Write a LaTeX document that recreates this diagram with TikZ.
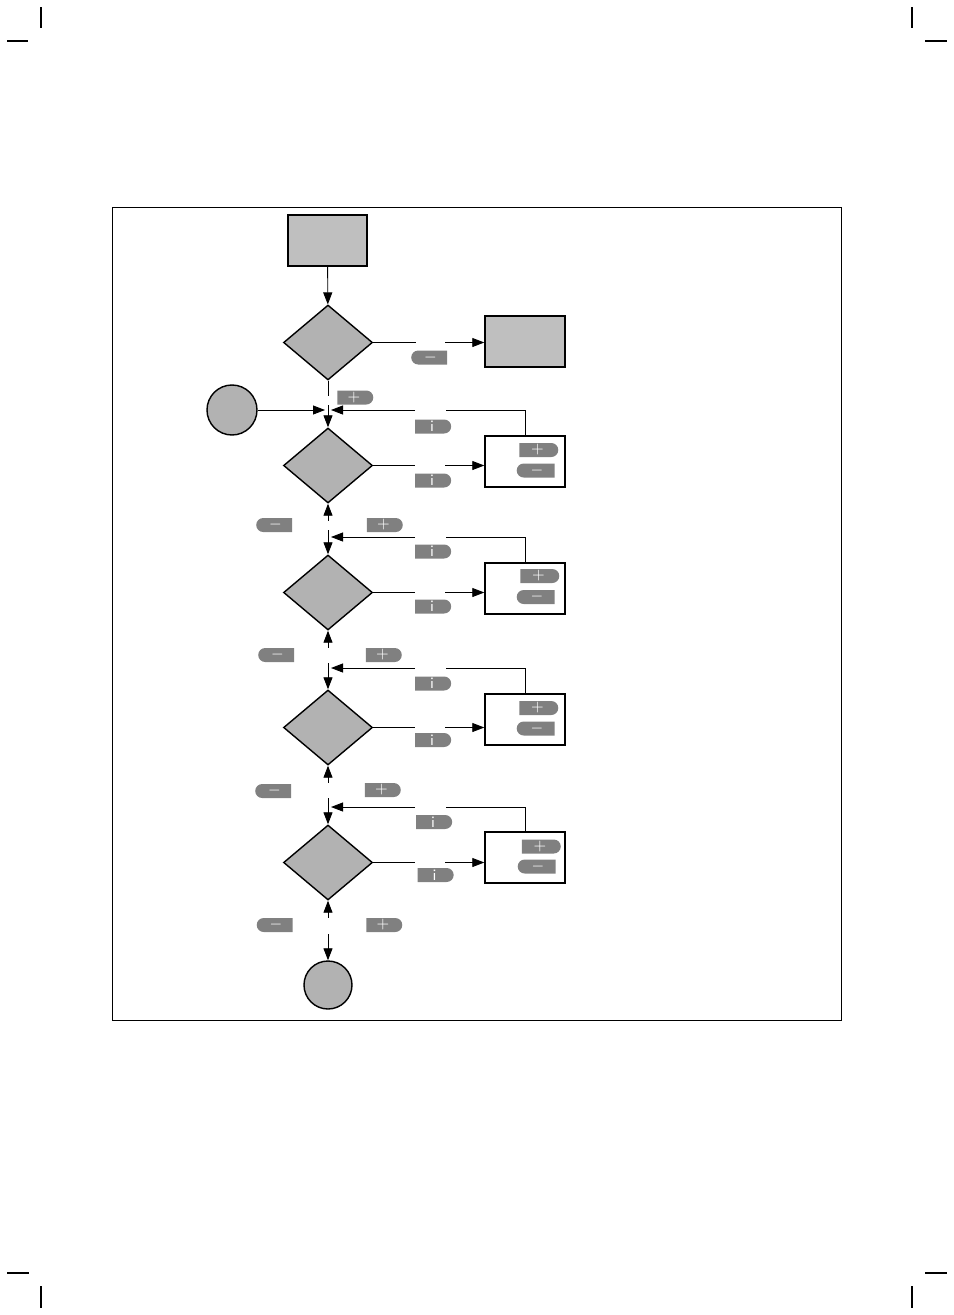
\documentclass[tikz,border=0pt]{standalone}
\usepackage{tikz}
\usetikzlibrary{positioning,arrows.meta,shapes.geometric,shapes.misc,calc}
\definecolor{boxgray}{gray}{0.75}
\definecolor{diagray}{gray}{0.70}
\definecolor{keygray}{gray}{0.50}
\begin{document}
\begin{tikzpicture}[x=0.2mm, y=-0.2mm, line width=0.5pt,
  box/.style={draw, line width=0.8pt, fill=#1, minimum width=16mm, minimum height=10.2mm, inner sep=0pt},
  box/.default=white,
  dia/.style={draw, line width=0.8pt, diamond, fill=diagray, minimum width=17.8mm, minimum height=15mm, inner sep=0pt},
  term/.style={draw, line width=0.8pt, circle, fill=diagray, minimum size=#1, inner sep=0pt},
  keyr/.style={rounded rectangle, rounded rectangle west arc=none, fill=keygray, text=white,
    font=\sffamily\fontsize{9}{9}\selectfont, minimum width=7.2mm, minimum height=2.8mm, inner sep=0pt},
  keyl/.style={rounded rectangle, rounded rectangle east arc=none, fill=keygray, text=white,
    font=\sffamily\fontsize{9}{9}\selectfont, minimum width=7.2mm, minimum height=2.8mm, inner sep=0pt},
  arr/.style={-{Triangle[length=2.4mm, width=1.8mm]}}]
  \useasboundingbox (0,0) rectangle (954,1315);
  % crop marks and frame
  \draw[line width=0.6pt] (41,7)--(41,28) (7,41)--(28,41) (912,7)--(912,28) (925,41)--(947,41)
    (41,1286)--(41,1308) (7,1273)--(29,1273) (912,1286)--(912,1308) (925,1273)--(947,1273);
  \draw[line width=0.5pt] (112,207) rectangle (841,1020);
  % nodes
  \node[box=boxgray, minimum width=15.8mm] (start) at (327.5,240.5) {};
  \node[dia] (d1) at (328,342.5) {};
  \node[box=boxgray] (quit) at (525,341.5) {};
  \node[term=10mm] (c1) at (232,410) {};
  \node[dia] (d2) at (328,465.5) {};
  \node[box] (b2) at (525,461.5) {};
  \node[dia] (d3) at (328,592.5) {};
  \node[box] (b3) at (525,588.5) {};
  \node[dia] (d4) at (328,727.5) {};
  \node[box] (b4) at (525,719.5) {};
  \node[dia] (d5) at (328,862.5) {};
  \node[box] (b5) at (525,857.5) {};
  \node[term=9.6mm] (c2) at (328,985) {};
  \coordinate (j2) at (328,410);
  \coordinate (j3) at (328,537);
  \coordinate (j4) at (328,668);
  \coordinate (j5) at (328,807);
  % keys
  \node[keyl] (k1m) at (430.5,357.5) {$-$};
  \node[keyr] (k1p) at (354,397.5) {$+$};
  \node[keyr] (k2i) at (432,426.5) {i};
  \node[keyr] (k2j) at (432,480.5) {i};
  \node[keyr, minimum width=7.8mm] (b2p) at (537.5,450) {$+$};
  \node[keyl, minimum width=7.6mm] (b2m) at (537,470.5) {$-$};
  \node[keyl] (k3m) at (275.5,525) {$-$};
  \node[keyr] (k3p) at (383.5,525) {$+$};
  \node[keyr] (k3i) at (432,551.5) {i};
  \node[keyr] (k3j) at (432,606.5) {i};
  \node[keyr, minimum width=7.8mm] (b3p) at (538.5,576) {$+$};
  \node[keyl, minimum width=7.6mm] (b3m) at (537,597) {$-$};
  \node[keyl] (k4m) at (277.5,655) {$-$};
  \node[keyr] (k4p) at (382.5,655) {$+$};
  \node[keyr] (k4i) at (432,683.5) {i};
  \node[keyr] (k4j) at (432,740) {i};
  \node[keyr, minimum width=7.8mm] (b4p) at (537.5,708) {$+$};
  \node[keyl, minimum width=7.6mm] (b4m) at (537,728.5) {$-$};
  \node[keyl] (k5m) at (274.5,791) {$-$};
  \node[keyr] (k5p) at (381.5,790) {$+$};
  \node[keyr] (k5i) at (433,822) {i};
  \node[keyr] (k5j) at (434.5,875) {i};
  \node[keyr, minimum width=7.8mm] (b5p) at (540,846.5) {$+$};
  \node[keyl, minimum width=7.6mm] (b5m) at (538,866.5) {$-$};
  \node[keyl] (k6m) at (276,925) {$-$};
  \node[keyr] (k6p) at (383,925) {$+$};
  % connectors
  \draw[arr] (start) -- (d1);
  \draw (d1.east) -- ++(43,0);
  \draw[arr] ($(quit.west |- d1.east)+(-39,0)$) -- (quit.west |- d1.east);
  \draw (d1.south) -- ++(0,15);
  \draw[arr] (c1) -- ($(j2)+(-3,0)$);
  \draw[arr] ($(j2)+(0,-5)$) -- (d2.north);
  \foreach \d/\b/\j in {d2/b2/j2, d3/b3/j3, d4/b4/j4, d5/b5/j5}{
    \draw (\d.east) -- ++(42,0);
    \draw[arr] ($(\b.west |- \d.east)+(-39,0)$) -- (\b.west |- \d.east);
    \draw (\b.north) |- ($(\j)+(118,0)$);
    \draw[arr] ($(\j)+(87,0)$) -- ($(\j)+(3,0)$);
  }
  \draw[arr] ($(d2.south)+(0,17)$) -- (d2.south);
  \draw[arr] ($(j3)+(0,-7)$) -- (d3.north);
  \draw[arr] ($(d3.south)+(0,17)$) -- (d3.south);
  \draw[arr] ($(j4)+(0,-5)$) -- (d4.north);
  \draw[arr] ($(d4.south)+(0,17)$) -- (d4.south);
  \draw[arr] ($(j5)+(0,-9)$) -- (d5.north);
  \draw[arr] ($(d5.south)+(0,17)$) -- (d5.south);
  \draw[arr] ($(c2.north)+(0,-26)$) -- (c2.north);
\end{tikzpicture}
\end{document}
